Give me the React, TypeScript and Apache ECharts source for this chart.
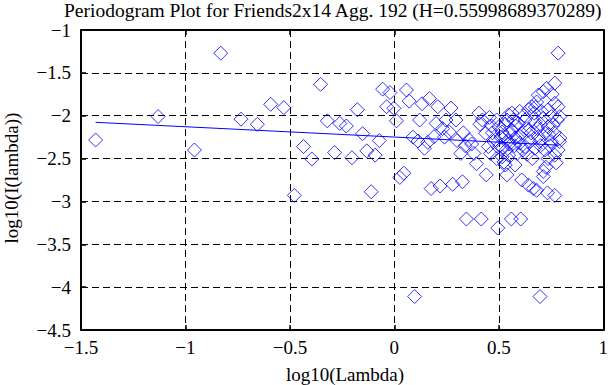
import React, { useEffect, useRef } from 'react';
import * as echarts from 'echarts';

// log10(Lambda) and log10(I(lambda))
const logLambda = [
  -1.43, -1.131, -0.957, -0.831, -0.734, -0.656, -0.592, -0.529, -0.479, -0.435,
  -0.395, -0.353, -0.321, -0.286, -0.261, -0.23, -0.203, -0.177, -0.152, -0.132,
  -0.111, -0.092, -0.072, -0.056, -0.037, -0.021, -0.002, 0.01, 0.026, 0.045,
  0.058, 0.071, 0.089, 0.097, 0.113, 0.121, 0.133, 0.144, 0.16, 0.168,
  0.176, 0.19, 0.2, 0.208, 0.219, 0.231, 0.24, 0.247, 0.263, 0.271,
  0.279, 0.295, 0.3, 0.318, 0.326, 0.33, 0.339, 0.345, 0.358, 0.37,
  0.381, 0.393, 0.405, 0.41, 0.416, 0.421, 0.437, 0.44, 0.45, 0.46,
  0.47, 0.484, 0.49, 0.495, 0.5, 0.516, 0.516, 0.52, 0.525, 0.531,
  0.531, 0.539, 0.539, 0.547, 0.547, 0.55, 0.56, 0.563, 0.563, 0.578,
  0.578, 0.58, 0.587, 0.594, 0.6, 0.605, 0.61, 0.61, 0.62, 0.626,
  0.626, 0.642, 0.642, 0.642, 0.65, 0.658, 0.665, 0.67, 0.673, 0.673,
  0.681, 0.681, 0.689, 0.689, 0.697, 0.7, 0.7, 0.713, 0.713, 0.713,
  0.713, 0.72, 0.729, 0.733, 0.736, 0.736, 0.736, 0.74, 0.75, 0.752,
  0.76, 0.768, 0.768, 0.768, 0.768, 0.784, 0.784, 0.784, 0.792, 0.792,
  0.455, 0.465, 0.475, 0.49, 0.505, 0.51, 0.53, 0.535, 0.545, 0.555,
  0.57, 0.575, 0.59, 0.6, 0.615, 0.63, 0.635, 0.655, 0.66, 0.675,
  0.685, 0.695, 0.705, 0.72, 0.725, 0.745, 0.755, 0.765, 0.775, 0.78,
  0.79
];
const logPower = [
  -2.283, -2.01, -2.4, -1.27, -2.04, -2.1, -1.867, -1.906, -2.93, -2.36,
  -2.505, -1.634, -2.06, -2.43, -2.09, -2.12, -2.49, -1.93, -2.21, -2.41,
  -2.887, -2.46, -2.29, -1.69, -1.895, -1.73, -1.914, -2.06, -2.72, -2.67,
  -1.7, -1.83, -2.25, -4.11, -2.295, -2.05, -1.86, -2.38, -2.31, -1.8,
  -2.85, -2.245, -2.09, -1.895, -2.82, -2.15, -2.25, -2.05, -2.19, -1.91,
  -2.8, -2.05, -2.29, -2.44, -2.77, -2.2, -2.35, -3.205, -2.28, -2.33,
  -2.44, -2.56, -1.97, -2.1, -3.205, -2.05, -2.205, -2.69, -2.36, -2.44,
  -2.2, -2.28, -2.5, -3.31, -2.13, -2.48, -2.19, -2.38, -2.54, -2.575,
  -2.245, -2.69, -2.05, -1.99, -2.46, -2.33, -3.205, -1.97, -2.17, -2.26,
  -2.575, -2.12, -2.44, -2.09, -2.32, -3.205, -2.205, -2.75, -2.0, -2.05,
  -2.36, -1.93, -2.17, -2.81, -2.3, -1.895, -2.85, -1.97, -2.07, -2.38,
  -1.84, -2.87, -1.76, -2.245, -4.11, -2.1, -2.35, -1.72, -2.03, -2.65,
  -2.71, -2.4, -1.68, -2.9, -1.93, -2.13, -2.5, -2.22, -2.3, -2.01,
  -2.11, -1.62, -1.855, -2.46, -2.93, -1.27, -1.895, -2.4, -2.01, -2.26,
  -2.02, -2.12, -2.3, -2.05, -2.35, -2.25, -2.1, -2.4, -2.3, -2.2,
  -2.05, -2.35, -2.25, -1.95, -2.4, -2.15, -2.45, -2.2, -2.5, -1.9,
  -2.15, -2.3, -1.95, -2.2, -2.6, -2.35, -1.75, -2.2, -2.55, -2.05,
  -2.3
];
// least-squares fit line end points
const fitLogLambda = [-1.43, 0.79];
const fitLogPower = [-2.077, -2.344];

const titleText = 'Periodogram Plot for Friends2x14 Agg. 192 (H=0.55998689370289)';
const xName = 'log10(Lambda)';
const yName = 'log10(I(lambda))';

const FONT = "'Liberation Serif', 'DejaVu Serif', serif";
const BLUE = '#0000ff';

const fmt = (v: number) => String(v).replace('-', '\u2212');

export default function App() {
  const ref = useRef<HTMLDivElement>(null);
  useEffect(() => {
    if (!ref.current) return;
    const chart = echarts.init(ref.current, null, { renderer: 'svg' });
    const boxLine = { color: '#000', width: 2 };
    const tickLine = { color: '#000', width: 1.5 };
    const common = {
      type: 'value' as const,
      axisLine: { show: true, onZero: false, lineStyle: boxLine },
      axisTick: { show: true, inside: true, length: 5, lineStyle: tickLine },
    };
    chart.setOption({
      animation: false,
      backgroundColor: '#fff',
      textStyle: { fontFamily: FONT },
      grid: { left: 81, right: 2, top: 30, bottom: 55, containLabel: false },
      xAxis: [
        {
          ...common,
          position: 'bottom',
          min: -1.5,
          max: 1,
          interval: 0.5,
          axisLabel: { color: '#000', fontSize: 19, fontFamily: FONT, margin: 8, formatter: fmt },
          splitLine: { show: true, lineStyle: { color: '#000', width: 1, type: [7, 4] } },
        },
        {
          ...common,
          position: 'top',
          min: -1.5,
          max: 1,
          interval: 0.5,
          axisLabel: { show: false },
          splitLine: { show: false },
        },
      ],
      yAxis: [
        {
          ...common,
          position: 'left',
          min: -4.5,
          max: -1,
          interval: 0.5,
          axisLabel: { color: '#000', fontSize: 19, fontFamily: FONT, margin: 10, formatter: fmt },
          splitLine: { show: true, lineStyle: { color: '#000', width: 1, type: [7, 4] } },
        },
        {
          ...common,
          position: 'right',
          min: -4.5,
          max: -1,
          interval: 0.5,
          axisLabel: { show: false },
          splitLine: { show: false },
        },
      ],
      series: [
        {
          type: 'scatter',
          xAxisIndex: 0,
          yAxisIndex: 0,
          symbol: 'diamond',
          symbolSize: 14,
          itemStyle: { color: 'transparent', borderColor: BLUE, borderWidth: 1 },
          data: logLambda.map((x, i) => [x, logPower[i]]),
          z: 3,
        },
        {
          type: 'line',
          xAxisIndex: 0,
          yAxisIndex: 0,
          showSymbol: false,
          symbol: 'none',
          lineStyle: { color: BLUE, width: 1 },
          data: fitLogLambda.map((x, i) => [x, fitLogPower[i]]),
          z: 4,
        },
      ],
      graphic: [
        {
          type: 'text',
          x: 64,
          y: 10,
          style: {
            text: titleText,
            fill: '#000',
            font: `19.5px ${FONT}`,
            align: 'left',
            verticalAlign: 'middle',
          },
        },
        {
          type: 'text',
          x: 345,
          y: 374,
          style: { text: xName, fill: '#000', font: `19px ${FONT}`, align: 'center', verticalAlign: 'middle' },
        },
        {
          type: 'text',
          x: 11,
          y: 178,
          rotation: Math.PI / 2,
          style: { text: yName, fill: '#000', font: `19px ${FONT}`, align: 'center', verticalAlign: 'middle' },
        },
      ],
    });
    return () => chart.dispose();
  }, []);
  return (
    <div
      ref={ref}
      style={{ position: 'fixed', left: 0, top: 0, width: 611, height: 385 }}
    />
  );
}
